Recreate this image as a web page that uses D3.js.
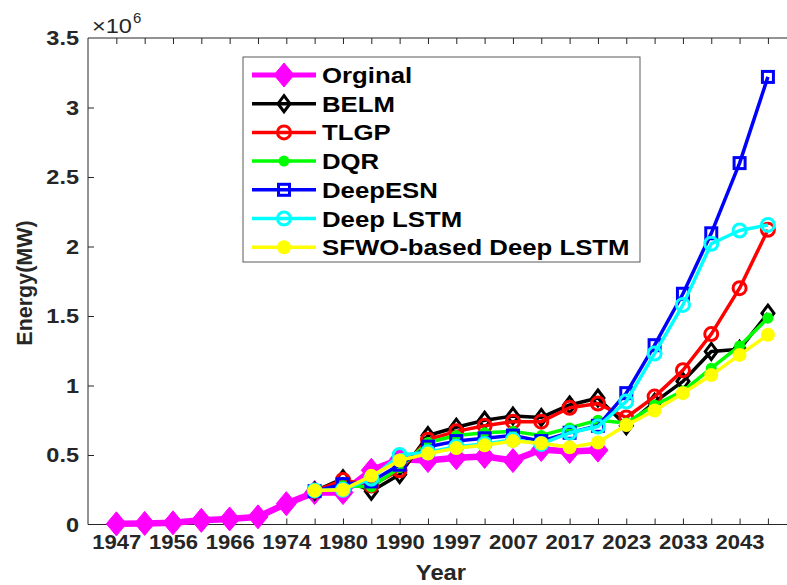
<!DOCTYPE html>
<html>
<head>
<meta charset="utf-8">
<script src="https://cdn.jsdelivr.net/npm/d3@7"></script>
<style>
  body { margin: 0; background: #fff; }
  svg { font-family: "Liberation Sans", Arial, sans-serif; }
</style>
</head>
<body>
<svg id="chart" width="787" height="585"></svg>
<script>
// tick labels on the x axis (every other point)
const yearLabels = ['1947', '1956', '1966', '1974', '1980', '1990', '1997', '2007', '2017', '2023', '2033', '2043'];
const nPoints = 24;

// values in units of 10^6 MW, one per point index (null = no value)
const orginal = [0.005, 0.008, 0.012, 0.03, 0.04, 0.055, 0.15, 0.23, 0.23, 0.39, 0.47, 0.46, 0.48, 0.49, 0.46, 0.54, 0.525, 0.535];
const belm    = [null, null, null, null, null, null, null, 0.24, 0.33, 0.24, 0.36, 0.64, 0.70, 0.75, 0.78, 0.77, 0.86, 0.91, 0.71, 0.88, 1.03, 1.245, 1.26, 1.52];
const tlgp    = [null, null, null, null, null, null, null, 0.24, 0.32, 0.28, 0.39, 0.61, 0.67, 0.71, 0.74, 0.74, 0.84, 0.87, 0.77, 0.92, 1.11, 1.37, 1.70, 2.12];
const dqr     = [null, null, null, null, null, null, null, 0.24, 0.28, 0.27, 0.41, 0.59, 0.64, 0.66, 0.67, 0.64, 0.695, 0.75, 0.73, 0.86, 0.96, 1.125, 1.285, 1.485];
const deepEsn = [null, null, null, null, null, null, null, 0.24, 0.29, 0.31, 0.43, 0.56, 0.60, 0.62, 0.64, 0.60, 0.66, 0.71, 0.945, 1.29, 1.66, 2.095, 2.60, 3.22];
const deepLstm = [null, null, null, null, null, null, null, 0.245, 0.25, 0.33, 0.50, 0.52, 0.56, 0.58, 0.61, 0.58, 0.66, 0.705, 0.885, 1.23, 1.58, 2.02, 2.115, 2.155];
const sfwo    = [null, null, null, null, null, null, null, 0.245, 0.25, 0.35, 0.46, 0.51, 0.55, 0.57, 0.60, 0.585, 0.555, 0.59, 0.715, 0.82, 0.945, 1.075, 1.22, 1.365];

const yTicks = [0, 0.5, 1, 1.5, 2, 2.5, 3, 3.5];

const series = [
  { name: 'Orginal', values: orginal, color: '#ff00ff', width: 6.5, marker: 'bigdiamond' },
  { name: 'BELM', values: belm, color: '#000000', width: 3.5, marker: 'diamond' },
  { name: 'TLGP', values: tlgp, color: '#ff0000', width: 3.5, marker: 'circle' },
  { name: 'DQR', values: dqr, color: '#00ff00', width: 3.5, marker: 'dot' },
  { name: 'DeepESN', values: deepEsn, color: '#0000ff', width: 3.5, marker: 'square' },
  { name: 'Deep LSTM', values: deepLstm, color: '#00ffff', width: 3.5, marker: 'circle' },
  { name: 'SFWO-based Deep LSTM', values: sfwo, color: '#ffff00', width: 3.5, marker: 'bigdot' }
];

const svg = d3.select('#chart');
const axLeft = 88, axTop = 38, axBottom = 524.5;

const x = d3.scaleLinear().domain([-1, nPoints]).range([axLeft, axLeft + 28.33 * (nPoints + 1)]);
const y = d3.scaleLinear().domain([0, 3.5]).range([axBottom, axTop]);
const axRight = x.range()[1];

const axisColor = '#262626';

// widen text a little, the source picture is slightly stretched
function stretch(sel, k) {
  sel.each(function () {
    const w = this.getComputedTextLength();
    this.setAttribute('textLength', w * k);
    this.setAttribute('lengthAdjust', 'spacingAndGlyphs');
  });
}

// axes box (inward ticks, MATLAB style)
const frame = svg.append('g');
frame.append('line').attr('x1', axLeft).attr('x2', axRight).attr('y1', axBottom).attr('y2', axBottom)
  .attr('stroke', axisColor).attr('stroke-width', 1);
frame.append('line').attr('x1', axLeft).attr('x2', axRight).attr('y1', axTop).attr('y2', axTop)
  .attr('stroke', axisColor).attr('stroke-width', 1);
frame.append('line').attr('x1', axLeft).attr('x2', axLeft).attr('y1', axTop).attr('y2', axBottom)
  .attr('stroke', axisColor).attr('stroke-width', 1);

const idx = d3.range(nPoints);
const xAxis = d3.axisBottom(x).tickValues(idx).tickSize(-6).tickPadding(10)
  .tickFormat(i => (i % 2 === 0 ? yearLabels[i / 2] : ''));
const gx = svg.append('g').attr('transform', `translate(0,${axBottom})`).call(xAxis);
gx.select('.domain').remove();
gx.selectAll('line').attr('stroke', axisColor);
gx.selectAll('text').attr('fill', axisColor).style('font-size', '21px').style('font-weight', 'bold');
stretch(gx.selectAll('text').filter(function () { return this.textContent !== ''; }), 1.05);

const gxTop = svg.append('g').attr('transform', `translate(0,${axTop})`)
  .call(d3.axisTop(x).tickValues(idx).tickSize(-6).tickFormat(''));
gxTop.select('.domain').remove();
gxTop.selectAll('line').attr('stroke', axisColor);

const yAxis = d3.axisLeft(y).tickValues(yTicks).tickSize(-6).tickPadding(9)
  .tickFormat(d => d3.format('~g')(d));
const gy = svg.append('g').attr('transform', `translate(${axLeft},0)`).call(yAxis);
gy.select('.domain').remove();
gy.selectAll('line').attr('stroke', axisColor);
gy.selectAll('.tick').filter(d => d === 0 || d === 3.5).select('line').remove();
gy.selectAll('text').attr('fill', axisColor).style('font-size', '21px').style('font-weight', 'bold');
stretch(gy.selectAll('text'), 1.12);

// exponent label
const expo = svg.append('text').attr('x', 92).attr('y', 33).attr('fill', axisColor)
  .style('font-size', '21px').text('\u00d710');
stretch(expo, 1.12);
svg.append('text').attr('x', 133).attr('y', 23).attr('fill', axisColor)
  .style('font-size', '15px').text('6');

// axis titles
const yearTitle = svg.append('text').attr('x', 441).attr('y', 580).attr('text-anchor', 'middle')
  .attr('fill', axisColor).style('font-size', '22px').style('font-weight', 'bold').text('Year');
stretch(yearTitle, 1.08);
svg.append('text').attr('transform', `translate(32,283) rotate(-90)`)
  .attr('text-anchor', 'middle').attr('fill', axisColor)
  .style('font-size', '21.5px').style('font-weight', 'bold').text('Energy(MW)');

function drawMarker(g, s, cx, cy) {
  const c = s.color;
  switch (s.marker) {
    case 'bigdiamond':
      g.append('path').attr('d', `M${cx},${cy - 12}L${cx + 10},${cy}L${cx},${cy + 12}L${cx - 10},${cy}Z`)
        .attr('fill', c).attr('stroke', c).attr('stroke-width', 1);
      break;
    case 'diamond':
      g.append('path').attr('d', `M${cx},${cy - 8}L${cx + 6},${cy}L${cx},${cy + 8}L${cx - 6},${cy}Z`)
        .attr('fill', 'none').attr('stroke', c).attr('stroke-width', 3);
      break;
    case 'circle':
      g.append('circle').attr('cx', cx).attr('cy', cy).attr('r', 6.5)
        .attr('fill', 'none').attr('stroke', c).attr('stroke-width', 3);
      break;
    case 'dot':
      g.append('circle').attr('cx', cx).attr('cy', cy).attr('r', 5.5).attr('fill', c);
      break;
    case 'bigdot':
      g.append('circle').attr('cx', cx).attr('cy', cy).attr('r', 7).attr('fill', c);
      break;
    case 'square':
      g.append('rect').attr('x', cx - 5.5).attr('y', cy - 5.5).attr('width', 11).attr('height', 11)
        .attr('fill', 'none').attr('stroke', c).attr('stroke-width', 3);
      break;
  }
}

const line = d3.line()
  .defined(d => d.v != null)
  .x(d => x(d.i))
  .y(d => y(d.v));

const plot = svg.append('g');
series.forEach(s => {
  const pts = s.values.map((v, i) => ({ i, v }));
  const g = plot.append('g');
  g.append('path').datum(pts).attr('d', line).attr('fill', 'none')
    .attr('stroke', s.color).attr('stroke-width', s.width).attr('stroke-linejoin', 'round');
  pts.filter(d => d.v != null).forEach(d => drawMarker(g, s, x(d.i), y(d.v)));
});

// legend
const lg = svg.append('g');
lg.append('rect').attr('x', 243).attr('y', 57).attr('width', 397).attr('height', 205)
  .attr('fill', '#fff').attr('stroke', '#5a5a5a').attr('stroke-width', 1);
series.forEach((s, k) => {
  const ly = 75 + k * 28.7;
  lg.append('line').attr('x1', 252).attr('x2', 316).attr('y1', ly).attr('y2', ly)
    .attr('stroke', s.color).attr('stroke-width', s.width > 5 ? 5 : 3.5);
  drawMarker(lg, s, 284, ly);
  const t = lg.append('text').attr('x', 322).attr('y', ly + 8).attr('fill', '#000')
    .style('font-size', '22px').style('font-weight', 'bold').text(s.name);
  stretch(t, 1.17);
});
</script>
</body>
</html>
